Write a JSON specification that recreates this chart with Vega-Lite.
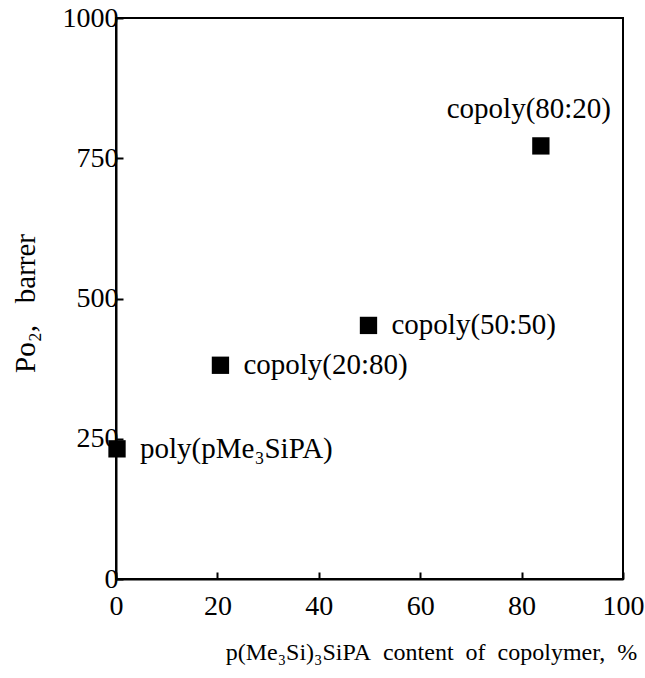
{
  "$schema": "https://vega.github.io/schema/vega-lite/v6.json",
  "width": 507,
  "height": 561,
  "autosize": {"type": "none"},
  "padding": {"left": 116, "top": 18, "right": 22, "bottom": 99},
  "background": "white",
  "config": {
    "view": {"stroke": "black", "strokeWidth": 2},
    "font": "Liberation Serif",
    "axis": {
      "domainColor": "black",
      "domainWidth": 2,
      "tickColor": "black",
      "tickWidth": 2,
      "grid": false,
      "labelFont": "Liberation Serif",
      "labelFontSize": 28,
      "labelColor": "black",
      "titleFont": "Liberation Serif",
      "titleFontSize": 24,
      "titleFontWeight": "normal",
      "titleColor": "black"
    }
  },
  "data": {
    "values": [
      {"content": 0.2, "po2": 232, "label": "poly(pMe₃SiPA)", "pos": "right"},
      {"content": 20.6, "po2": 381, "label": "copoly(20:80)", "pos": "right"},
      {"content": 49.8, "po2": 452, "label": "copoly(50:50)", "pos": "right"},
      {"content": 83.8, "po2": 772, "label": "copoly(80:20)", "pos": "top"}
    ]
  },
  "encoding": {
    "x": {
      "field": "content",
      "type": "quantitative",
      "scale": {"domain": [0, 100], "nice": false},
      "axis": {
        "values": [0, 20, 40, 60, 80, 100],
        "format": "d",
        "tickSize": -7,
        "labelPadding": 20,
        "title": "p(Me₃Si)₃SiPA\u00a0 content\u00a0 of\u00a0 copolymer,\u00a0 %",
        "titlePadding": 20,
        "titleX": 315,
        "labelFlush": false
      }
    },
    "y": {
      "field": "po2",
      "type": "quantitative",
      "scale": {"domain": [0, 1000], "nice": false},
      "axis": {
        "values": [0, 250, 500, 750, 1000],
        "format": "d",
        "tickSize": -7,
        "labelPadding": 5,
        "title": "Po₂,\u00a0\u00a0 barrer",
        "titleFontSize": 29,
        "titlePadding": 22,
        "titleY": 285,
        "labelFlush": false
      }
    }
  },
  "layer": [
    {
      "mark": {"type": "square", "filled": true, "color": "black", "size": 300, "opacity": 1}
    },
    {
      "transform": [{"filter": "datum.pos === 'right'"}],
      "mark": {"type": "text", "align": "left", "baseline": "middle", "dx": 23, "fontSize": 29, "font": "Liberation Serif", "color": "black"},
      "encoding": {"text": {"field": "label"}}
    },
    {
      "transform": [{"filter": "datum.pos === 'top'"}],
      "mark": {"type": "text", "align": "center", "baseline": "alphabetic", "dx": -12, "dy": -28, "fontSize": 29, "font": "Liberation Serif", "color": "black"},
      "encoding": {"text": {"field": "label"}}
    }
  ]
}
